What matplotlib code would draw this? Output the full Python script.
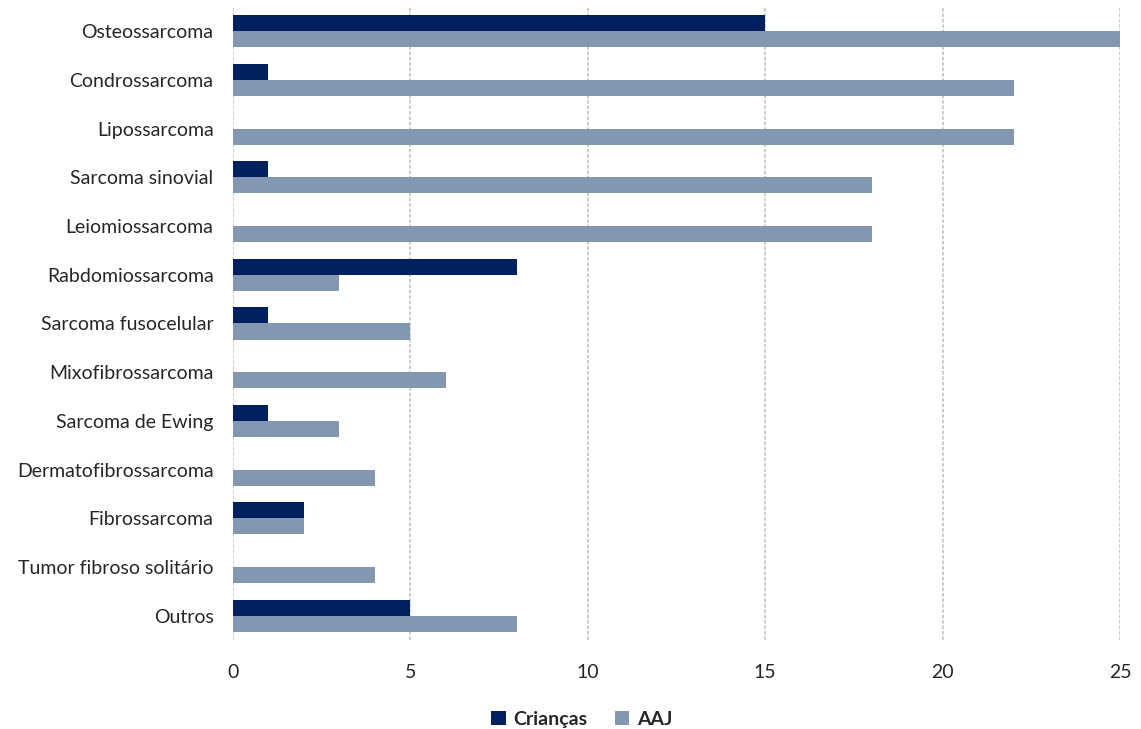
import numpy as np
import matplotlib.pyplot as plt

categorias = ['Osteossarcoma', 'Condrossarcoma', 'Lipossarcoma', 'Sarcoma sinovial',
              'Leiomiossarcoma', 'Rabdomiossarcoma', 'Sarcoma fusocelular',
              'Mixofibrossarcoma', 'Sarcoma de Ewing', 'Dermatofibrossarcoma',
              'Fibrossarcoma', 'Tumor fibroso solitário', 'Outros']
criancas = [15, 1, 0, 1, 0, 8, 1, 0, 1, 0, 2, 0, 5]
aaj = [25, 22, 22, 18, 18, 3, 5, 6, 3, 4, 2, 4, 8]

plt.rcParams['font.family'] = ['Lato', 'DejaVu Sans']

fig = plt.figure(figsize=(11.41, 7.29), dpi=100)
ax = fig.add_axes([0.2042, 0.1221, 0.7774, 0.8683])

y = np.arange(len(categorias))
h = 0.33
ax.barh(y - h / 2, criancas, height=h, color='#002060', label='Crianças', zorder=3)
ax.barh(y + h / 2, aaj, height=h, color='#8497B0', label='AAJ', zorder=3)

ax.set_ylim(len(categorias) - 0.5, -0.5)
ax.set_xlim(0, 25)
ax.set_xticks(np.arange(0, 26, 5))
ax.set_yticks(y)
ax.set_yticklabels(categorias, fontsize=14, color='#262626')
ax.tick_params(axis='x', labelsize=14, colors='#262626', length=0, pad=17)
ax.tick_params(axis='y', length=0, pad=14)
ax.grid(axis='x', color='#c8c8c8', linestyle=(0, (2, 1)), linewidth=1.3, zorder=0)
for s in ax.spines.values():
    s.set_visible(False)

leg = fig.legend(loc='lower center', bbox_to_anchor=(0.51, -0.022), ncol=2, frameon=False,
                 prop={'size': 14, 'weight': 'bold'}, handlelength=0.75, handleheight=0.75,
                 handletextpad=0.4, columnspacing=1.4)
for t in leg.get_texts():
    t.set_color('#262626')

fig.savefig('out.png', dpi=100)
